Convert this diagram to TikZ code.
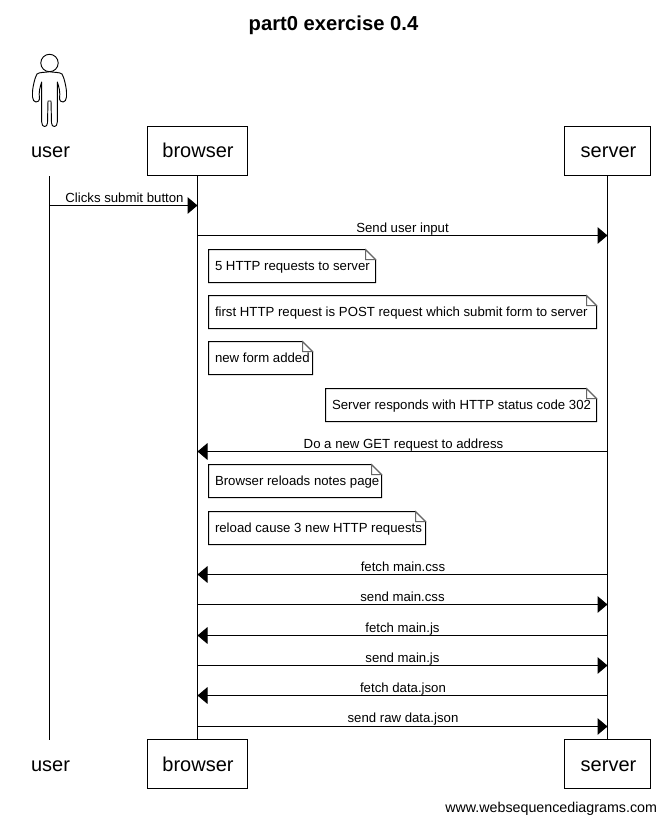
\documentclass[tikz,border=0pt]{standalone}
\usepackage{fontspec}
\setmainfont{Liberation Sans}
\usetikzlibrary{arrows.meta}
\tikzset{
  every node/.style={inner sep=0pt,outer sep=0pt},
  actorbox/.style={draw=black,line width=0.75pt,fill=white,font=\fontsize{15}{18}\selectfont,minimum height=36.75pt,text height=9pt,text depth=0pt,anchor=north},
  actorlabel/.style={font=\fontsize{15}{18}\selectfont,anchor=base},
  life/.style={draw=black,line width=0.75pt},
  msg/.style={draw=black,line width=0.75pt,-{Triangle[length=7.5pt,width=12.5pt]}},
  msgtext/.style={font=\fontsize{9.9}{12}\selectfont,anchor=base},
  notetext/.style={font=\fontsize{9.9}{12}\selectfont,anchor=base west},
  noteline/.style={draw=black,line width=0.75pt},
  foldline/.style={draw=black!60,line width=0.75pt},
}
\newcommand{\notebox}[6]{%
  \draw[noteline,fill=white] (#1,#2) -- (#3-10,#2) -- (#3,#2+10) -- (#3,#4) -- (#1,#4) -- cycle;
  \draw[foldline] (#3-10,#2) -- (#3-10,#2+10) -- (#3,#2+10) -- cycle;
  \node[notetext] (#5) at (#1+6.5,#2+20.5) {#6};
}
\begin{document}
\begin{tikzpicture}[x=0.75pt,y=-0.75pt]
\useasboundingbox (0,0) rectangle (665,822);
\node[font=\bfseries\fontsize{15.15}{18}\selectfont] (title) at (333.5,25) {part0 exercise 0.4};
% actors top
\node[actorbox,minimum width=75pt] (browserTop) at (197.5,126.5) {\kern0.75pt browser};
\node[actorbox,minimum width=64.5pt] (serverTop) at (607.5,126.5) {\kern1.5pt server};
\node[actorlabel] (userTop) at (50.5,157.5) {user};
\coordinate (userLifeTop) at (49.5,176);
% actors bottom
\node[actorbox,text height=10.5pt,minimum width=75pt] (browserBot) at (197.5,739.5) {\kern0.75pt browser};
\node[actorbox,text height=10.5pt,minimum width=64.5pt] (serverBot) at (607.5,739.5) {\kern1.5pt server};
\node[actorlabel] (userBot) at (50.5,771) {user};
\coordinate (userLifeBot) at (49.5,739.5);
% lifelines
\draw[life] (userLifeTop) -- (userLifeBot);
\draw[life] (browserTop.south) -- (browserBot.north);
\draw[life] (serverTop.south) -- (serverBot.north);
% stick figure
\draw[line width=0.7pt,fill=white] (49.5,63) circle[radius=8.7];
\draw[line width=0.7pt,line join=round]
  (49.5,71.7) .. controls (53,72.5) and (60,72) .. (62,74)
  .. controls (64,77) and (66.3,87) .. (66.5,92)
  -- (66.5,97) .. controls (66.5,100) and (64.5,102) .. (63,102)
  .. controls (61,102) and (59.5,100.5) .. (59.5,99)
  .. controls (60.5,92) and (59,87) .. (57.3,82)
  -- (57.3,122) .. controls (57.3,125) and (56,126.5) .. (54.5,126.5)
  .. controls (53,126.5) and (51.5,125.5) .. (51.5,123)
  -- (51,101) -- (48,101) -- (47.5,123)
  .. controls (47.5,125.5) and (46,126.5) .. (44.5,126.5)
  .. controls (43,126.5) and (41.7,125) .. (41.7,122)
  -- (41.7,82) .. controls (40,87) and (38.5,92) .. (39.5,99)
  .. controls (39.5,100.5) and (38,102) .. (36,102)
  .. controls (34.5,102) and (32.5,100) .. (32.5,97)
  -- (32.5,92) .. controls (32.7,87) and (35,77) .. (37,74)
  .. controls (39,72) and (46,72.5) .. (49.5,71.7);
% messages
\coordinate (r1) at (0,205.5);  \draw[msg] (userLifeTop |- r1) -- (browserTop |- r1);
\node[msgtext] (m1) at (124.5,202) {Clicks submit button};
\coordinate (r2) at (0,235.5);  \draw[msg] (browserTop |- r2) -- (serverTop |- r2);
\node[msgtext] (m2) at (402.5,232) {Send user input};
\coordinate (r3) at (0,451.5);  \draw[msg] (serverTop |- r3) -- (browserTop |- r3);
\node[msgtext] (m3) at (403.5,448) {Do a new GET request to address};
\coordinate (r4) at (0,574.5);  \draw[msg] (serverTop |- r4) -- (browserTop |- r4);
\node[msgtext] (m4) at (403,571) {fetch main.css};
\coordinate (r5) at (0,604.5);  \draw[msg] (browserTop |- r5) -- (serverTop |- r5);
\node[msgtext] (m5) at (402.5,601) {send main.css};
\coordinate (r6) at (0,635.5);  \draw[msg] (serverTop |- r6) -- (browserTop |- r6);
\node[msgtext] (m6) at (402.5,632) {fetch main.js};
\coordinate (r7) at (0,665.5);  \draw[msg] (browserTop |- r7) -- (serverTop |- r7);
\node[msgtext] (m7) at (402.5,662) {send main.js};
\coordinate (r8) at (0,695.5);  \draw[msg] (serverTop |- r8) -- (browserTop |- r8);
\node[msgtext] (m8) at (403,692) {fetch data.json};
\coordinate (r9) at (0,726.5);  \draw[msg] (browserTop |- r9) -- (serverTop |- r9);
\node[msgtext] (m9) at (403,722.5) {send raw data.json};
% notes
\notebox{208.5}{249.5}{375.5}{282.5}{n1}{5 HTTP requests to server}
\notebox{208.5}{295.5}{596.5}{328.5}{n2}{first HTTP request is POST request which submit form to server}
\notebox{208.5}{341.5}{312.5}{374.5}{n3}{new form added}
\notebox{325.5}{388.5}{596.5}{421.5}{n4}{Server responds with HTTP status code 302}
\notebox{208.5}{464.5}{381.5}{497.5}{n5}{Browser reloads notes page}
\notebox{208.5}{511.5}{425.5}{544.5}{n6}{reload cause 3 new HTTP requests}
\node[font=\fontsize{10.7}{13}\selectfont,anchor=base east] (credit) at (657,812) {www.websequencediagrams.com};
\end{tikzpicture}
\end{document}
